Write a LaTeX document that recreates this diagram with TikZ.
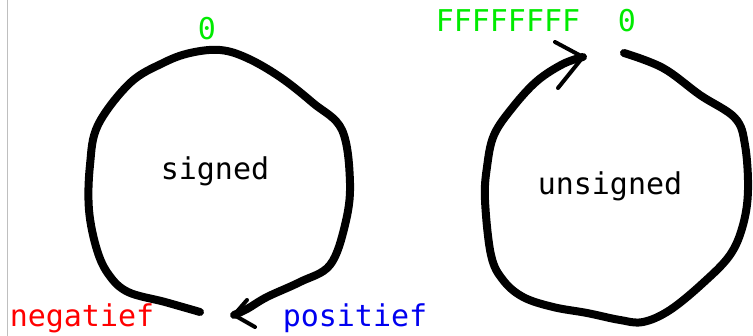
\documentclass[tikz,border=0pt]{standalone}
\usepackage{fontspec}
\setmonofont{DejaVu Sans Mono}
\definecolor{lbl}{RGB}{0,235,0}
\definecolor{neg}{RGB}{255,0,0}
\definecolor{pos}{RGB}{0,0,240}
\tikzset{
  txt/.style={font=\ttfamily\fontsize{30}{30}\selectfont, inner sep=0pt, anchor=base},
  loopline/.style={line width=8pt, line cap=round, line join=round},
  barb/.style={line width=4pt, line cap=round},
}
\begin{document}
\begin{tikzpicture}[x=1pt,y=-1pt]
\useasboundingbox (0,0) rectangle (753,336);
\fill[white] (0,0) rectangle (753,336);
\draw[line width=1.2pt, black!25] (7.5,0) -- (7.5,336);

% labels
\node[txt, text=lbl] (zl) at (207,40) {0};
\node[txt, text=lbl] (ff) at (508,32) {FFFFFFFF};
\node[txt, text=lbl] (zr) at (627,32) {0};
\node[txt] (sg) at (215,180) {signed};
\node[txt] (us) at (610,195) {unsigned};
\node[txt, text=neg] (ng) at (82,327) {negatief};
\node[txt, text=pos] (ps) at (355,327) {positief};

% left loop
\coordinate (ls) at (200,312);
\coordinate (lt) at (234,315);
\draw[loopline] plot[smooth, tension=0.6] coordinates {
 (ls) (165,302) (128,292) (109,275) (97,250) (89,210) (90,165) (98,125)
 (130,83) (163,63) (190,53) (220,50) (247,58) (280,77) (313,103)
 (342,130) (350,183) (345,225) (330,265) (300,282) (267,297) (247,309) (lt)};
\draw[barb] (lt) -- (247,300);
\draw[barb] (lt) -- (255,327);

% right loop
\coordinate (rs) at (624,53);
\coordinate (rt) at (583,57);
\draw[loopline] plot[smooth, tension=0.6] coordinates {
 (rs) (663,68) (700,95) (735,118) (745,145) (748,190) (743,225) (730,255)
 (703,283) (670,310) (643,322) (620,320) (587,313) (553,307) (523,297) (503,280)
 (491,255) (485,200) (487,167) (494,135) (513,107) (537,81) (563,64) (rt)};
\draw[barb] (rt) -- (555,42);
\draw[barb] (rt) -- (558,88);
\end{tikzpicture}
\end{document}
